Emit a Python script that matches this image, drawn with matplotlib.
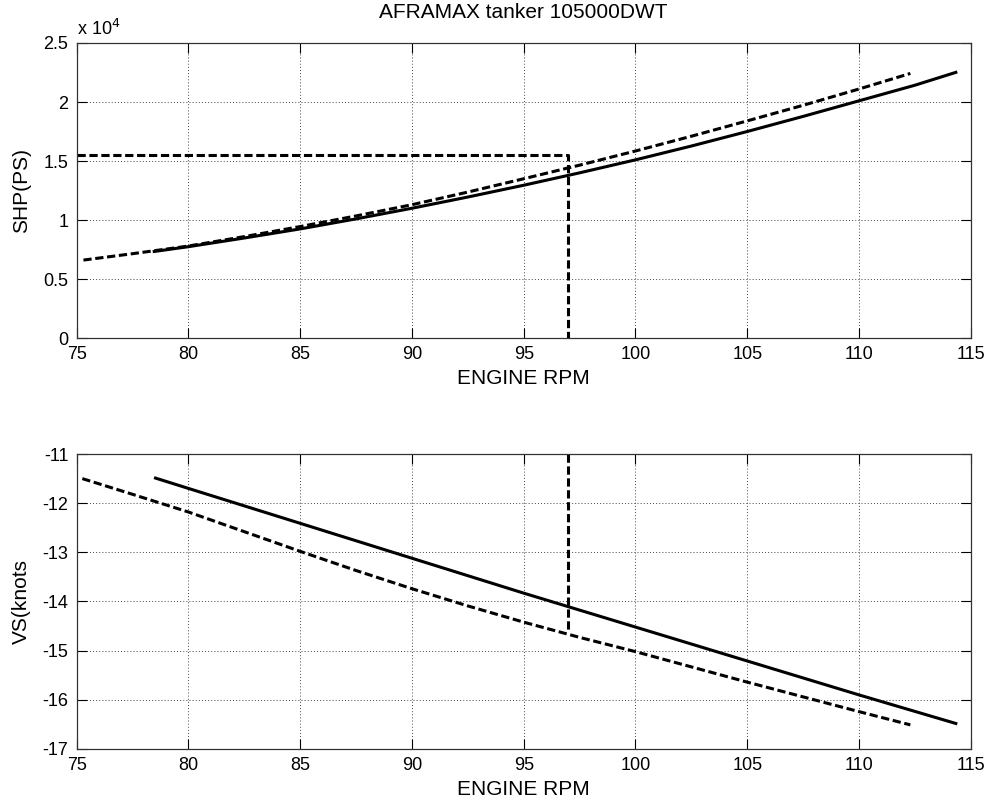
import matplotlib
matplotlib.use("Agg")
import matplotlib.pyplot as plt
from matplotlib.ticker import FuncFormatter

plt.rcParams['font.family'] = ['Liberation Sans', 'DejaVu Sans']
plt.rcParams['axes.unicode_minus'] = False

# ---- data ----
rpm_solid = [78.4, 80, 82.5, 85, 87.5, 90, 92.5, 95, 97.5, 100, 102.5, 105, 107.5, 110, 112.5, 114.4]
shp_solid = [7320, 7745, 8480, 9250, 10100, 11000, 11950, 12950, 14000, 15100, 16270, 17500, 18780, 20100, 21420, 22550]
rpm_dash = [75.3, 77.5, 80, 82.5, 85, 87.5, 90, 92.5, 95, 97.5, 100, 102.5, 105, 107.5, 110, 112.3]
shp_dash = [6610, 7150, 7800, 8600, 9450, 10350, 11300, 12370, 13500, 14650, 15850, 17100, 18400, 19720, 21100, 22420]

vs_rpm_solid = [78.46, 80, 85, 90, 95, 100, 105, 110, 114.4]
vs_solid = [-11.48, -11.70, -12.41, -13.12, -13.83, -14.52, -15.21, -15.90, -16.49]
vs_rpm_dash = [75.25, 77.5, 80, 82.5, 85, 87.5, 90, 92.5, 95, 97.5, 100, 102.5, 105, 107.5, 110, 112.3]
vs_dash = [-11.50, -11.82, -12.18, -12.58, -12.98, -13.37, -13.74, -14.09, -14.42, -14.73, -15.02, -15.33, -15.64, -15.94, -16.24, -16.51]

op_rpm = 97
op_shp = 15500
op_vs_end = -14.6

xticks = [75, 80, 85, 90, 95, 100, 105, 110, 115]
shp_ticks = [0, 5000, 10000, 15000, 20000, 25000]
vs_ticks = [-17, -16, -15, -14, -13, -12, -11]

fig = plt.figure(figsize=(9.9, 8.05), dpi=100)
ax1 = fig.add_axes([0.0775, 0.580, 0.903, 0.3666])
ax2 = fig.add_axes([0.0775, 0.0696, 0.903, 0.3664])

dash = (2.7, 1.2)
lw = 2.2
TICK_FS = 13
LABEL_FS = 15

def style(ax):
    ax.grid(True, linestyle=(0, (1, 2.2)), color='#444444', linewidth=0.7)
    ax.tick_params(direction='in', top=True, right=True, labelsize=TICK_FS, length=7, width=0.8)
    ax.tick_params(axis='x', pad=6)
    ax.tick_params(axis='y', pad=6)
    for s in ax.spines.values():
        s.set_linewidth(0.9)
        s.set_color('#333333')
    ax.set_xlim(75, 115)
    ax.set_xticks(xticks)
    ax.set_xlabel('ENGINE RPM', fontsize=LABEL_FS, labelpad=4)

# top
ax1.plot(rpm_solid, shp_solid, color='black', lw=lw, solid_capstyle='butt')
ax1.plot(rpm_dash, shp_dash, color='black', lw=lw, linestyle=(0, dash))
ax1.plot([75, op_rpm, op_rpm], [op_shp, op_shp, 0], color='black', lw=lw, linestyle=(0, dash))
ax1.set_ylim(0, 25000)
ax1.set_yticks(shp_ticks)
ax1.yaxis.set_major_formatter(FuncFormatter(lambda v, p: f'{v/1e4:g}'))
style(ax1)
ax1.set_ylabel('SHP(PS)', fontsize=LABEL_FS)
ax1.yaxis.set_label_coords(-0.051, 0.5)
ax1.text(0.0, 1.012, r'x 10$^4$', transform=ax1.transAxes, fontsize=TICK_FS, ha='left', va='bottom')
ax1.set_title('AFRAMAX tanker 105000DWT', fontsize=LABEL_FS, pad=18)

# bottom
ax2.plot(vs_rpm_solid, vs_solid, color='black', lw=lw, solid_capstyle='butt')
ax2.plot(vs_rpm_dash, vs_dash, color='black', lw=lw, linestyle=(0, dash))
ax2.plot([op_rpm, op_rpm], [-11, op_vs_end], color='black', lw=lw, linestyle=(0, dash))
ax2.set_ylim(-17, -11)
ax2.set_yticks(vs_ticks)
style(ax2)
ax2.set_ylabel('VS(knots', fontsize=LABEL_FS)
ax2.yaxis.set_label_coords(-0.051, 0.5)

fig.savefig('out.png', dpi=100)
